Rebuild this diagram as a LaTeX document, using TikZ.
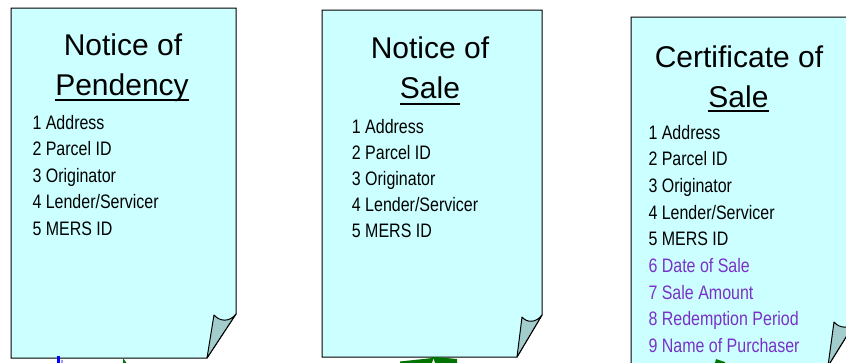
\documentclass[tikz,border=0pt]{standalone}
\usepackage{fontspec}
\setmainfont{Liberation Sans}
\newfontfamily\narrowfont[FakeStretch=0.82]{Liberation Sans}
\definecolor{pagefill}{HTML}{CCFFFF}
\definecolor{flapfill}{HTML}{A3CCCC}
\definecolor{itempurple}{RGB}{120,50,200}
\definecolor{arrowgreen}{RGB}{0,115,0}
\definecolor{arrowblue}{RGB}{0,0,255}
\begin{document}
\begin{tikzpicture}[x=1pt,y=-1pt,
  page/.style={fill=pagefill, draw=black, line width=1pt, line join=miter},
  flap/.style={fill=flapfill, draw=black, line width=1pt, line join=round},
  title/.style={font=\fontsize{30}{36}\selectfont, inner sep=0pt, anchor=base},
  item/.style={font=\narrowfont\fontsize{19.5}{23}\selectfont, inner sep=0pt, anchor=base west},
  newitem/.style={item, text=itempurple},
  uline/.style={line width=2.2pt},
  frag/.style={draw=none}]
\useasboundingbox (0,0) rectangle (846,362);
\clip (0,0) rectangle (846,362);

% page 1
\draw[page] (11,8) -- (236,8) -- (236,314) -- (207,358) -- (11,358) -- cycle;
\draw[flap] (236,314) .. controls (230,322) and (220,322) .. (214,315) -- (207,358) -- cycle;
\node[title] (t1a) at (123,55) {Notice of};
\node[title] (t1b) at (122,95) {Pendency};
\draw[uline] ([yshift=-4.7pt]t1b.base west) -- ([yshift=-4.7pt]t1b.base east);
\node[item] (p1i1) at (32.3,129.3) {1 Address};
\node[item] (p1i2) at (32.3,155.8) {2 Parcel ID};
\node[item] (p1i3) at (32.3,182.3) {3 Originator};
\node[item] (p1i4) at (32.3,208.8) {4 Lender/Servicer};
\node[item] (p1i5) at (32.3,235.3) {5 MERS ID};

% page 2
\draw[page] (322,10) -- (542,10) -- (542,315) -- (517,357) -- (322,357) -- cycle;
\draw[flap] (542,315) .. controls (536,323) and (527,323) .. (522,317) -- (517,357) -- cycle;
\node[title] (t2a) at (430,58) {Notice of};
\node[title] (t2b) at (430,98) {Sale};
\draw[uline] ([yshift=-6pt]t2b.base west) -- ([yshift=-6pt]t2b.base east);
\node[item] (p2i1) at (351.7,133.3) {1 Address};
\node[item] (p2i2) at (351.7,159.3) {2 Parcel ID};
\node[item] (p2i3) at (351.7,185.3) {3 Originator};
\node[item] (p2i4) at (351.7,211.3) {4 Lender/Servicer};
\node[item] (p2i5) at (351.7,237.3) {5 MERS ID};

% page 3
\draw[page] (631,17) -- (856,17) -- (856,321) -- (828,366) -- (631,366) -- cycle;
\draw[flap] (856,321) .. controls (850,329) and (840,329) .. (834,322) -- (828,366) -- cycle;
\node[title] (t3a) at (739,67) {Certificate of};
\node[title] (t3b) at (738.5,107) {Sale};
\draw[uline] ([yshift=-4.3pt]t3b.base west) -- ([yshift=-4.3pt]t3b.base east);
\node[item] (p3i1) at (648.3,139) {1 Address};
\node[item] (p3i2) at (648.3,165.7) {2 Parcel ID};
\node[item] (p3i3) at (648.3,192.4) {3 Originator};
\node[item] (p3i4) at (648.3,219.1) {4 Lender/Servicer};
\node[item] (p3i5) at (648.3,245.8) {5 MERS ID};
\node[newitem] (p3i6) at (648.3,272.5) {6 Date of Sale};
\node[newitem] (p3i7) at (648.3,299.2) {7 Sale Amount};
\node[newitem] (p3i8) at (648.3,325.9) {8 Redemption Period};
\node[newitem] (p3i9) at (648.3,352.6) {9 Name of Purchaser};

% fragments of connectors cut off at the bottom edge
\fill[arrowblue] (56.5,356) rectangle (60,363);
\fill[arrowblue!40] (61,360) rectangle (62.5,363);
\fill[arrowgreen] (123,358) -- (126.5,363) -- (123,363) -- cycle;
\fill[arrowgreen] (400,363) -- (400,361.5) -- (430,358.3) -- (433,357) -- (436,357) -- (457,359) -- (457,363) -- cycle;
\fill[white] (432,363) -- (433.5,359) -- (435,363) -- cycle;
\fill[arrowgreen] (715,363) -- (716,359) -- (725,362) -- (725,363) -- cycle;
\end{tikzpicture}
\end{document}
